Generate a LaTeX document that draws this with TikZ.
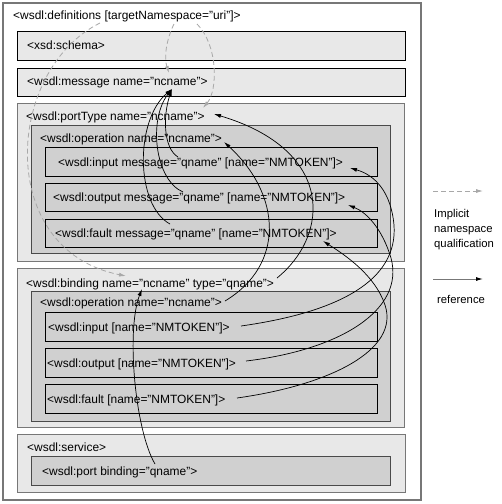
\documentclass[tikz,border=0pt]{standalone}
\usepackage{fontspec}
\setmainfont{Liberation Sans}
\usetikzlibrary{arrows.meta}

\definecolor{boxlight}{HTML}{E8E8E8}
\definecolor{boxdark}{HTML}{D0D0D0}
\definecolor{edgegray}{HTML}{777777}
\definecolor{edgedark}{HTML}{4A4A4A}
\definecolor{dashgray}{HTML}{A8A8A8}

\tikzset{
  lbl/.style={anchor=base west, inner sep=0pt, font=\fontsize{11.95}{14}\selectfont},
  legtxt/.style={anchor=base west, inner sep=0pt, font=\fontsize{11.3}{13}\selectfont},
  outerbox/.style={draw=edgegray, line width=1.4pt, fill=white},
  grpbox/.style={draw=edgegray, line width=0.9pt, fill=boxlight},
  topbox/.style={draw=black, line width=0.9pt, fill=boxlight},
  opbox/.style={draw=edgedark, line width=0.9pt, fill=boxdark},
  leafbox/.style={draw=black, line width=0.9pt, fill=boxdark},
  refline/.style={line width=0.7pt, -{Latex[length=7pt,width=4pt]}},
  nsline/.style={dashgray, line width=0.8pt, dash pattern=on 5pt off 3pt, -{Latex[length=7pt,width=4pt]}}
}

\begin{document}
\begin{tikzpicture}[x=1pt, y=-1pt]
\useasboundingbox (0,0) rectangle (502,504);

% boxes
\draw[outerbox] (3,3) rectangle (421,500);
\draw[topbox] (17,31) rectangle (405,60);
\draw[topbox] (17,68) rectangle (405,96);

\draw[grpbox] (17,103) rectangle (404,261);
\draw[opbox] (31,125) rectangle (390,253);
\draw[leafbox] (45,147) rectangle (377,176);
\draw[leafbox] (45,183) rectangle (377,211);
\draw[leafbox] (45,219) rectangle (377,247);

\draw[grpbox] (17,268) rectangle (404,427);
\draw[opbox] (31,291) rectangle (390,421);
\draw[leafbox] (45,312) rectangle (377,341);
\draw[leafbox] (45,348) rectangle (377,377);
\draw[leafbox] (45,384) rectangle (377,413);

\draw[grpbox] (17,434) rectangle (405,492);
\draw[opbox] (31,456) rectangle (390,485);

% texts
\node[lbl] (defs) at (13,19) {<wsdl:definitions [targetNamespace="uri"]>};
\node[lbl] (schema) at (27,49) {<xsd:schema>};
\node[lbl] (msg) at (27,85) {<wsdl:message name="ncname">};
\node[lbl] (ptype) at (26,120) {<wsdl:portType name="ncname">};
\node[lbl] (ptOp) at (40,142) {<wsdl:operation name="ncname">};
\node[lbl] (ptIn) at (58,166) {<wsdl:input message="qname" [name="NMTOKEN"]>};
\node[lbl] (ptOut) at (53,201) {<wsdl:output message="qname" [name="NMTOKEN"]>};
\node[lbl] (ptFault) at (55,237) {<wsdl:fault message="qname" [name="NMTOKEN"]>};
\node[lbl] (bind) at (26,287) {<wsdl:binding name="ncname" type="qname">};
\node[lbl] (bOp) at (40,306) {<wsdl:operation name="ncname">};
\node[lbl] (bIn) at (48,331) {<wsdl:input [name="NMTOKEN"]>};
\node[lbl] (bOut) at (47,367) {<wsdl:output [name="NMTOKEN"]>};
\node[lbl] (bFault) at (47,403) {<wsdl:fault [name="NMTOKEN"]>};
\node[lbl] (svc) at (27,451) {<wsdl:service>};
\node[lbl] (port) at (42,475) {<wsdl:port binding="qname">};

% ends of the connectors
\coordinate (uriA) at (100,23);
\coordinate (uriB) at (174,24);
\coordinate (uriC) at (197,24);
\coordinate (msgN) at (169,73);
\coordinate (ptN) at (203,108);
\coordinate (bindN) at (126,276);
\coordinate (msgRef) at (172,89);
\coordinate (inQ) at (178,157);
\coordinate (outQ) at (183,192);
\coordinate (faultQ) at (170,224);
\coordinate (ptNref) at (214,114);
\coordinate (ptOpN) at (224,142);
\coordinate (typeQ) at (277,278);
\coordinate (bOpN) at (225,301);
\coordinate (ptInTok) at (350,168);
\coordinate (ptOutTok) at (348,205);
\coordinate (ptFaultTok) at (323,241);
\coordinate (bInTok) at (241,326);
\coordinate (bOutTok) at (246,361);
\coordinate (bFaultTok) at (237,398);
\coordinate (portQ) at (155,464);
\coordinate (bindNref) at (142,289);

% implicit namespace qualification
\draw[nsline] (uriB) .. controls (166,40) and (164,58) .. (msgN);
\draw[nsline] (uriC) .. controls (218,45) and (218,90) .. (ptN);
\draw[nsline] (uriA) .. controls (5,70) and (-5,250) .. (bindN);

% references
\draw[refline] (inQ) .. controls (163,148) and (163,115) .. (msgRef);
\draw[refline] (outQ) .. controls (155,180) and (148,120) .. (msgRef);
\draw[refline] (faultQ) .. controls (135,205) and (135,120) .. (msgRef);
\draw[refline] (typeQ) .. controls (330,235) and (335,150) .. (ptNref);
\draw[refline] (bOpN) .. controls (285,265) and (282,195) .. (ptOpN);
\draw[refline] (bInTok) .. controls (340,312) and (398,280) .. (394,225)
  .. controls (391,192) and (375,175) .. (ptInTok);
\draw[refline] (bOutTok) .. controls (340,350) and (405,310) .. (391,258)
  .. controls (382,228) and (366,212) .. (ptOutTok);
\draw[refline] (bFaultTok) .. controls (330,385) and (400,350) .. (385,305)
  .. controls (375,275) and (345,255) .. (ptFaultTok);
\draw[refline] (portQ) .. controls (135,430) and (126,330) .. (bindNref);

% legend
\coordinate (legA) at (433,191);
\coordinate (legB) at (483,191);
\coordinate (legC) at (433,279);
\coordinate (legD) at (483,279);
\draw[nsline] (legA) -- (legB);
\draw[line width=0.9pt, edgegray, -{Latex[length=7pt,width=4pt,black]}] (legC) -- (legD);
\node[legtxt] (legNs1) at (434,217) {Implicit};
\node[legtxt] (legNs2) at (434,232) {namespace};
\node[legtxt] (legNs3) at (434,247) {qualification};
\node[legtxt] (legRef) at (437,303) {reference};
\end{tikzpicture}
\end{document}
